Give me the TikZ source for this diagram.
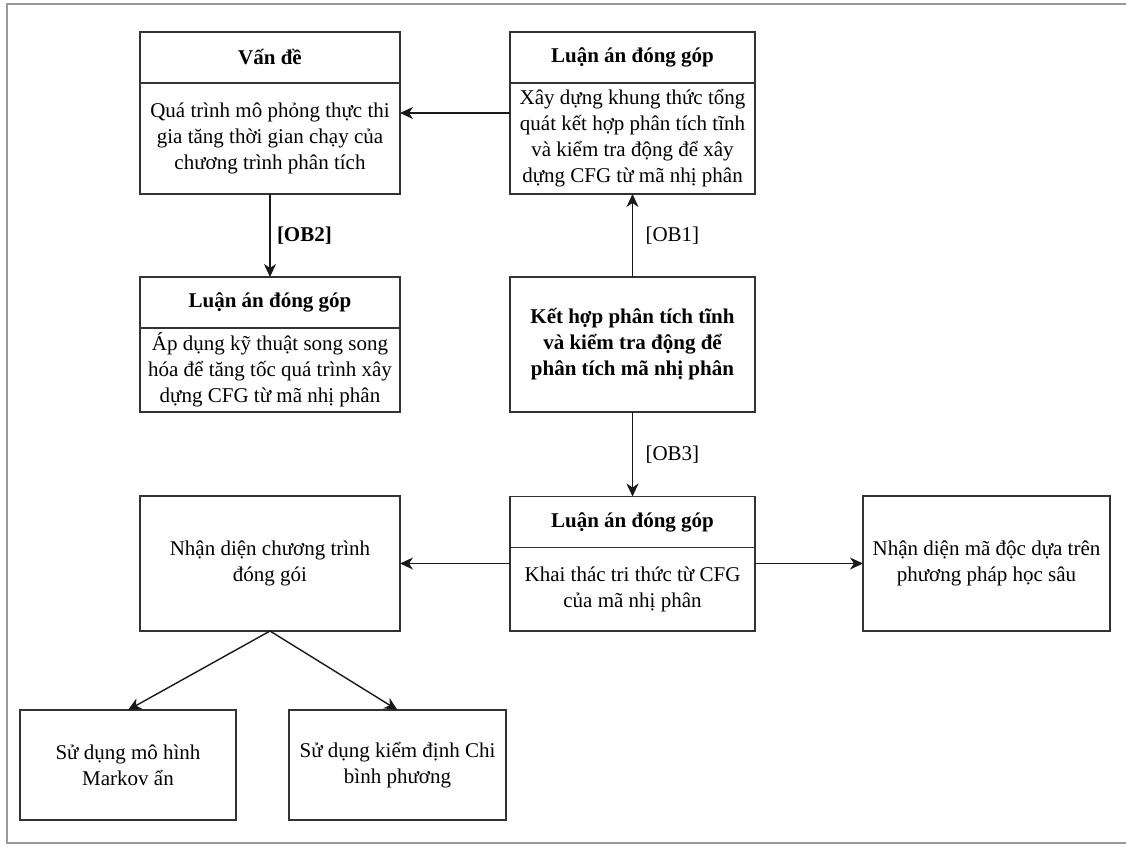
\documentclass[tikz,border=0pt]{standalone}
\usepackage{fontspec}
\setmainfont{Liberation Serif}
\usetikzlibrary{positioning,arrows.meta}

\begin{document}
\begin{tikzpicture}[
  x=1pt, y=-1pt,
  every node/.style={draw=black!80, line width=1.3pt, outer sep=0pt, inner sep=2pt, align=center, fill=white, text=black, font=\fontsize{21}{26}\selectfont},
  head/.style={minimum height=51pt, font=\fontsize{21}{26}\selectfont\bfseries},
  lbl/.style={draw=none, fill=none, inner sep=7pt},
  arr/.style={draw=black!90, line width=1.4pt, -{Stealth[length=13pt, width=12pt, inset=4pt]}}
]
  \useasboundingbox (0,0) rectangle (1126,846);
  % outer frame
  \draw[gray!80, line width=1.6pt] (1126,4) -- (7,4) -- (7,843) -- (1126,843);
  % upper part
  \node[head, minimum width=260pt] (vd) at (270,57.5) {Vấn đề};
  \node[below=0pt of vd, minimum width=260pt, minimum height=111pt] (vdb) {Quá trình mô phỏng thực thi\\gia tăng thời gian chạy của\\chương trình phân tích};
  \node[head, minimum width=245pt] (g1) at (632.5,57.5) {Luận án đóng góp};
  \node[below=0pt of g1, minimum width=245pt, minimum height=111pt] (g1b) {Xây dựng khung thức tổng\\quát kết hợp phân tích tĩnh\\và kiểm tra động để xây\\dựng CFG từ mã nhị phân};
  \node[head, minimum width=260pt] (g2) at (270,302.5) {Luận án đóng góp};
  \node[below=0pt of g2, minimum width=260pt, minimum height=84pt] (g2b) {Áp dụng kỹ thuật song song\\hóa để tăng tốc quá trình xây\\dựng CFG từ mã nhị phân};
  \node[minimum width=245pt, minimum height=135pt, font=\fontsize{21}{26}\selectfont\bfseries] (kh) at (632.5,344.5) {Kết hợp phân tích tĩnh\\và kiểm tra động để\\phân tích mã nhị phân};
  % lower part
  \node[head, minimum width=245pt] (g3) at (632.5,522) {Luận án đóng góp};
  \node[below=0pt of g3, minimum width=245pt, minimum height=83.5pt] (g3b) {Khai thác tri thức từ CFG\\của mã nhị phân};
  \node[minimum width=260pt, minimum height=135pt] (nd) at (270,563.5) {Nhận diện chương trình\\đóng gói};
  \node[minimum width=247pt, minimum height=135pt] (md) at (986.5,563.5) {Nhận diện mã độc dựa trên\\phương pháp học sâu};
  \node[minimum width=216pt, minimum height=110pt] (mk) at (128,765) {Sử dụng mô hình\\Markov ẩn};
  \node[minimum width=217pt, minimum height=110pt] (cs) at (397.5,765) {Sử dụng kiểm định Chi\\bình phương};
  % connectors
  \draw[arr] ([yshift=25.5pt]g1b.west) -- ([yshift=25.5pt]vdb.east);
  \draw[arr] (vdb.south) -- node[lbl, right, font=\fontsize{21}{26}\selectfont\bfseries] {[OB2]} (g2.north);
  \draw[arr] (kh.north) -- node[lbl, right, xshift=6pt] {[OB1]} (g1b.south);
  \draw[arr] (kh.south) -- node[lbl, right, xshift=6pt] {[OB3]} (g3.north);
  \draw[arr] ([yshift=25.75pt]g3b.west) -- (nd.east);
  \draw[arr] ([yshift=25.75pt]g3b.east) -- (md.west);
  \draw[arr] (nd.south) -- (mk.north);
  \draw[arr] (nd.south) -- (cs.north);
\end{tikzpicture}
\end{document}
